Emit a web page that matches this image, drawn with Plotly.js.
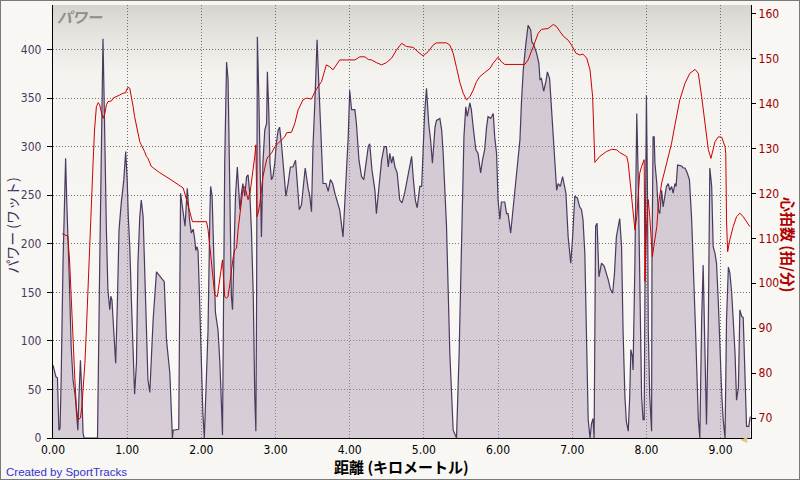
<!DOCTYPE html>
<html>
<head>
<meta charset="utf-8">
<script src="https://cdn.plot.ly/plotly-3.0.1.min.js"></script>
<style>
  html, body { margin: 0; padding: 0; background: #f8f7f3; }
  #frame { position: relative; width: 800px; height: 480px; box-sizing: border-box; border: 1px solid #7a7a7a; overflow: hidden; background: #f8f7f3; }
  #chart { position: absolute; left: -1px; top: -1px; width: 800px; height: 480px; }
</style>
</head>
<body>
<div id="frame"><div id="chart"></div></div>
<script>
// ---- Data (distance in km) ----
const powerKm = [0.00,0.02,0.04,0.06,0.08,0.095,0.11,0.135,0.155,0.17,0.185,0.20,0.22,0.245,0.27,0.30,0.32,0.335,0.35,0.36,0.37,0.39,0.405,0.42,0.60,0.63,0.653,0.674,0.687,0.70,0.72,0.74,0.765,0.78,0.795,0.81,0.83,0.845,0.87,0.89,0.92,0.955,0.98,1.00,1.015,1.035,1.055,1.08,1.10,1.125,1.145,1.17,1.19,1.215,1.235,1.26,1.28,1.305,1.35,1.395,1.50,1.53,1.575,1.61,1.62,1.695,1.72,1.75,1.78,1.81,1.84,1.865,1.89,1.91,1.925,1.94,1.955,1.975,2.00,2.02,2.04,2.09,2.115,2.125,2.145,2.165,2.19,2.225,2.25,2.27,2.285,2.30,2.315,2.34,2.36,2.385,2.405,2.42,2.44,2.46,2.485,2.505,2.52,2.54,2.56,2.585,2.61,2.63,2.655,2.675,2.70,2.72,2.735,2.745,2.755,2.775,2.795,2.81,2.83,2.855,2.88,2.89,2.91,2.925,2.945,2.965,2.99,3.01,3.035,3.055,3.08,3.10,3.125,3.14,3.17,3.20,3.235,3.27,3.29,3.32,3.35,3.37,3.40,3.44,3.46,3.485,3.505,3.53,3.56,3.585,3.62,3.64,3.68,3.71,3.74,3.77,3.80,3.835,3.865,3.91,3.95,3.98,4.00,4.025,4.07,4.09,4.125,4.16,4.19,4.215,4.25,4.27,4.30,4.34,4.36,4.395,4.43,4.465,4.495,4.52,4.54,4.565,4.585,4.61,4.64,4.675,4.705,4.74,4.765,4.795,4.835,4.855,4.885,4.91,4.945,4.97,4.99,5.01,5.035,5.065,5.09,5.115,5.15,5.17,5.215,5.24,5.26,5.305,5.35,5.395,5.44,5.475,5.51,5.54,5.565,5.585,5.62,5.64,5.665,5.70,5.73,5.765,5.79,5.82,5.845,5.865,5.90,5.935,5.955,5.98,6.00,6.025,6.045,6.09,6.115,6.135,6.17,6.195,6.225,6.25,6.27,6.295,6.315,6.34,6.375,6.405,6.44,6.455,6.48,6.52,6.55,6.565,6.585,6.615,6.645,6.665,6.695,6.72,6.74,6.765,6.79,6.81,6.84,6.87,6.885,6.915,6.945,6.98,7.005,7.035,7.07,7.10,7.125,7.145,7.17,7.195,7.215,7.24,7.26,7.28,7.295,7.315,7.335,7.36,7.395,7.43,7.46,7.485,7.515,7.545,7.57,7.595,7.64,7.665,7.685,7.71,7.73,7.755,7.775,7.79,7.81,7.82,7.845,7.87,7.89,7.91,7.935,7.955,7.97,7.98,7.99,8.00,8.015,8.025,8.045,8.07,8.075,8.09,8.105,8.115,8.14,8.16,8.18,8.205,8.225,8.25,8.27,8.295,8.315,8.34,8.36,8.385,8.40,8.42,8.45,8.475,8.495,8.52,8.55,8.58,8.61,8.63,8.665,8.70,8.72,8.745,8.765,8.79,8.81,8.835,8.855,8.88,8.90,8.925,8.945,8.97,8.99,9.015,9.035,9.06,9.08,9.105,9.125,9.15,9.17,9.195,9.215,9.24,9.26,9.285,9.305,9.33,9.35,9.38,9.40];
const powerW = [75,70,63,62,8,10,60,180,230,288,245,214,163,94,60,43,26,8,43,77,80,43,5,0,0,180,300,411,358,283,214,153,132,146,142,122,94,77,146,214,242,266,295,266,228,197,146,77,45,77,180,228,245,228,180,105,60,47,122,171,161,101,67,0,8,9,252,235,218,257,225,211,215,205,193,197,193,146,77,26,0,111,231,259,249,197,129,111,77,36,3,146,283,387,369,249,146,132,180,249,279,255,235,252,262,249,269,271,249,214,146,43,7,146,413,351,266,207,283,317,324,377,334,283,266,269,283,303,317,320,303,283,262,249,262,279,279,286,266,235,240,259,278,257,250,233,300,345,410,362,300,262,262,254,266,262,252,242,235,207,259,310,358,338,338,324,286,269,266,283,300,303,276,255,231,259,286,300,300,279,293,283,290,279,273,245,242,252,262,276,290,269,245,237,259,259,300,334,360,324,307,283,320,327,329,317,293,218,87,8,0,87,207,310,341,331,345,338,320,297,293,273,286,297,320,331,329,334,310,293,245,225,243,243,231,231,211,231,252,269,286,307,345,379,406,425,420,408,405,396,386,369,370,357,367,377,370,338,314,279,255,262,259,269,262,252,207,180,207,249,247,238,235,225,190,105,19,0,15,20,0,218,221,166,180,177,170,163,153,149,170,207,226,197,111,43,17,7,43,91,84,70,180,334,266,146,43,19,19,146,283,353,249,111,43,7,180,310,310,283,262,235,231,255,238,252,259,262,255,259,252,262,259,281,280,280,278,278,273,266,225,173,105,19,0,122,178,87,14,122,278,259,197,190,180,139,87,46,19,0,122,176,170,149,122,87,39,52,132,125,124,52,12,12,22];

const hrKm = [0.125,0.20,0.225,0.25,0.27,0.295,0.315,0.335,0.37,0.39,0.405,0.43,0.45,0.47,0.495,0.52,0.54,0.56,0.585,0.61,0.63,0.655,0.675,0.70,0.72,0.74,0.79,0.81,0.855,0.90,0.945,0.98,0.99,1.01,1.035,1.055,1.08,1.10,1.125,1.145,1.17,1.19,1.215,1.235,1.26,1.28,1.325,1.37,1.44,1.575,1.71,1.755,1.80,1.845,1.88,2.07,2.09,2.125,2.16,2.18,2.215,2.25,2.285,2.30,2.315,2.34,2.36,2.385,2.405,2.43,2.45,2.475,2.495,2.52,2.54,2.56,2.585,2.61,2.63,2.655,2.675,2.70,2.72,2.735,2.745,2.75,2.765,2.79,2.81,2.83,2.855,2.88,2.90,2.945,2.99,3.035,3.08,3.125,3.15,3.215,3.26,3.305,3.37,3.415,3.485,3.53,3.575,3.62,3.685,3.73,3.775,3.82,3.865,3.955,4.07,4.135,4.205,4.25,4.295,4.36,4.43,4.495,4.565,4.63,4.70,4.765,4.855,4.92,4.99,5.055,5.125,5.17,5.305,5.35,5.395,5.44,5.485,5.53,5.575,5.62,5.665,5.71,5.755,5.82,5.89,5.935,6.00,6.045,6.09,6.36,6.405,6.475,6.54,6.585,6.675,6.745,6.79,6.835,6.88,6.945,6.99,7.05,7.10,7.145,7.195,7.24,7.275,7.29,7.305,7.37,7.46,7.53,7.60,7.64,7.665,7.735,7.755,7.775,7.80,7.82,7.845,7.87,7.89,7.91,7.935,7.97,7.98,7.99,8.00,8.015,8.025,8.045,8.07,8.08,8.10,8.14,8.16,8.205,8.25,8.295,8.34,8.385,8.45,8.52,8.585,8.655,8.70,8.745,8.79,8.835,8.87,8.925,8.97,9.015,9.06,9.07,9.08,9.095,9.125,9.17,9.215,9.26,9.305,9.35,9.395];
const hrBpm = [111,110.5,104.5,94.8,85.9,78.5,72.6,69.6,70,72.6,76.3,82.2,89.6,98.5,108.2,117.8,126.7,134.1,139.3,140.2,139.7,137.8,136.7,137.8,139.7,140.4,140.6,141.2,141.5,141.9,142.3,142.4,143,143.6,143.4,141.9,139.3,137.1,134.9,133.4,131.5,130.8,130.1,129.3,128.2,127.8,126,125.4,124.6,123.2,121.7,121.2,118.6,115.6,113.7,113.7,112,106.5,101,97.4,97,101.5,105.2,100.8,97,96.7,97,100,103,105.9,107.4,107.8,111.9,115.6,118.6,120.8,121.5,120,118.6,120,122.3,125.2,128.2,130.8,123,114.8,115.6,117.8,120.8,123.7,125.6,127.5,128.2,128.9,130.4,131.2,131.9,132.6,133.5,133.6,135.6,138.6,140.8,141.2,141,142.6,143.8,144.9,148.6,148.2,147.5,148.6,149.7,149.7,149.7,150.4,150.4,149.8,149.7,149.1,148.6,149.1,150.1,151.9,153.4,152.7,152.5,151.5,150.6,151.5,153,153.5,153.5,153,151.2,148,144.7,142.3,140.8,141.5,143,144.9,146,146.9,147.8,149,150.3,149.3,148.7,148.7,149.7,152.7,155.6,156.5,156.7,157.6,157.1,156,155,154.1,153,151.2,150.8,151,150.1,147.5,141.5,134.1,126.9,128.2,129.3,129.8,129.7,129.1,128.9,128.2,126.7,123,118.6,114.8,111.9,114.8,120.8,124.5,126,127.5,100.4,108.2,111.9,116.3,118.6,114.8,108.9,105.9,108.2,112.6,117.1,122.3,125.2,128.2,131.2,135.3,140.8,144.5,146.7,147.6,146.7,141.5,135.6,129.7,127.8,131.5,132.6,132.5,130.4,128.9,114.1,107,109.7,112.6,114.8,115.6,114.8,113.7,112.6];

const powerTicks = [0,50,100,150,200,250,300,350,400];
const hrTicks = [70,80,90,100,110,120,130,140,150,160];
const kmTicks = [0,1,2,3,4,5,6,7,8,9];

const chartTitle = 'パワー';
const powerAxisTitle = 'パワー (ワット)';
const hrAxisTitle = '心拍数 (拍/分)';
const xAxisTitle = '距離 (キロメートル)';
const creditText = 'Created by SportTracks';

// ---- Styling ----
const tickFont = 'Liberation Sans Narrow, DejaVu Sans Condensed, Arial Narrow, sans-serif';
const jpFont = 'Noto Sans CJK JP, Noto Sans, sans-serif';

const gradSvg = '<svg xmlns="http://www.w3.org/2000/svg" width="100" height="100" preserveAspectRatio="none">' +
  '<defs><linearGradient id="g" x1="0" y1="0" x2="0" y2="1">' +
  '<stop offset="0" stop-color="#d6d4ce"/><stop offset="0.06" stop-color="#e4e2dd"/>' +
  '<stop offset="0.16" stop-color="#f4f3ef"/><stop offset="1" stop-color="#faf9f6"/>' +
  '</linearGradient></defs><rect width="100" height="100" fill="url(#g)"/></svg>';
const gradUrl = 'data:image/svg+xml;base64,' + btoa(gradSvg);

const traces = [
  {
    x: powerKm, y: powerW, type: 'scatter', mode: 'lines',
    line: { color: '#4a3a60', width: 1.2 },
    fill: 'tozeroy', fillcolor: 'rgba(170,151,176,0.45)',
    hoverinfo: 'skip', showlegend: false
  },
  {
    x: hrKm, y: hrBpm, type: 'scatter', mode: 'lines', yaxis: 'y2',
    line: { color: '#cc0000', width: 1 },
    hoverinfo: 'skip', showlegend: false
  }
];

const gridDash = '1px,2px';

const layout = {
  width: 800, height: 480,
  margin: { l: 53, r: 49, t: 5, b: 42 },
  paper_bgcolor: '#f8f7f3',
  plot_bgcolor: 'rgba(0,0,0,0)',
  showlegend: false,
  hovermode: false,
  images: [{
    source: gradUrl, xref: 'paper', yref: 'paper', x: 0, y: 1,
    sizex: 1, sizey: 1, sizing: 'stretch', xanchor: 'left', yanchor: 'top', layer: 'below'
  }],
  xaxis: {
    range: [0, 9.41], tickvals: kmTicks, tickformat: '.2f',
    showgrid: true, gridcolor: '#6e6e6e', griddash: gridDash, gridwidth: 1,
    showline: true, linecolor: '#000000', linewidth: 1.2,
    ticks: '', zeroline: false,
    tickfont: { family: tickFont, size: 12, color: '#000000' }
  },
  yaxis: {
    range: [0, 445.8], tickvals: powerTicks,
    showgrid: true, gridcolor: '#6e6e6e', griddash: gridDash, gridwidth: 1,
    showline: true, linecolor: '#000000', linewidth: 1.2,
    ticks: 'outside', ticklen: 5, tickcolor: '#000000', ticklabelstandoff: 3,
    zeroline: false,
    tickfont: { family: tickFont, size: 12, color: '#4a3a62' }
  },
  yaxis2: {
    overlaying: 'y', side: 'right', range: [65.55, 161.93], tickvals: hrTicks,
    showgrid: false, showline: true, linecolor: '#000000', linewidth: 1.2,
    ticks: 'outside', ticklen: 4, tickcolor: '#000000', zeroline: false,
    tickfont: { family: tickFont, size: 12, color: '#9a0000' }
  },
  annotations: [
    { text: chartTitle, xref: 'paper', yref: 'paper', x: 0, y: 1, xanchor: 'left', yanchor: 'top',
      xshift: 2, yshift: 1, showarrow: false,
      font: { family: jpFont, size: 15, color: '#8e8e8e', style: 'italic', weight: 'bold' } },
    { text: powerAxisTitle, xref: 'paper', yref: 'paper', x: 0, y: 0.49, xanchor: 'center', yanchor: 'middle',
      xshift: -41, textangle: -90, showarrow: false,
      font: { family: jpFont, size: 14, color: '#3c2c5c' } },
    { text: hrAxisTitle, xref: 'paper', yref: 'paper', x: 1, y: 0.446, xanchor: 'center', yanchor: 'middle',
      xshift: 37, textangle: 90, showarrow: false,
      font: { family: jpFont, size: 15, color: '#b00000', weight: 'bold' } },
    { text: xAxisTitle, xref: 'paper', yref: 'paper', x: 0.4986, y: 0, xanchor: 'center', yanchor: 'middle',
      yshift: -28, showarrow: false,
      font: { family: jpFont, size: 15, color: '#000000', weight: 'bold' } },
    { text: creditText, xref: 'paper', yref: 'paper', x: 0, y: 0, xanchor: 'left', yanchor: 'middle',
      xshift: -49, yshift: -34, showarrow: false,
      font: { family: 'Liberation Sans, Arial, sans-serif', size: 11.5, color: '#3333cc' } },
    { text: '◀', xref: 'paper', yref: 'paper', x: 1, y: 0, xanchor: 'right', yanchor: 'middle',
      xshift: -1, yshift: -1, showarrow: false,
      font: { family: 'DejaVu Sans, sans-serif', size: 8, color: '#e2c77a' } }
  ]
};

Plotly.newPlot('chart', traces, layout, { displayModeBar: false, staticPlot: true });
</script>
</body>
</html>
